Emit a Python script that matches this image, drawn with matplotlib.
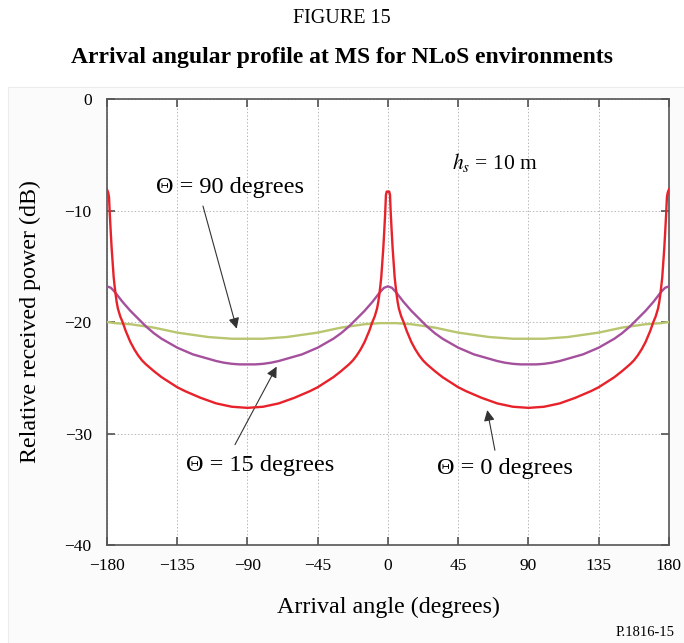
import matplotlib
matplotlib.use("Agg")
import matplotlib.pyplot as plt
from matplotlib.patches import Rectangle

plt.rcParams["font.family"] = ["Liberation Serif", "DejaVu Serif"]
plt.rcParams["mathtext.fontset"] = "stix"

# Arrival angle grid (degrees) for the smooth curves
ANGLES = [
    -180, -177.5, -175, -170, -165, -160, -155, -150, -145, -140,
    -135, -130, -125, -120, -115, -110, -105, -100, -95, -90,
    -85, -80, -75, -70, -65, -60, -55, -50, -45, -40,
    -35, -30, -25, -20, -15, -10, -5, -2.5, 0,
    2.5, 5, 10, 15, 20, 25, 30, 35, 40, 45,
    50, 55, 60, 65, 70, 75, 80, 85, 90,
    95, 100, 105, 110, 115, 120, 125, 130, 135, 140,
    145, 150, 155, 160, 165, 170, 175, 177.5, 180,
]

# Theta = 15 degrees (purple)
THETA15_DB = [
    -16.8, -16.93, -17.3, -18.2, -19.0, -19.7, -20.4, -21.0, -21.5, -21.9,
    -22.3, -22.6, -22.9, -23.1, -23.3, -23.5, -23.65, -23.75, -23.8, -23.8,
    -23.8, -23.75, -23.65, -23.5, -23.3, -23.1, -22.9, -22.6, -22.3, -21.9,
    -21.5, -21.0, -20.4, -19.7, -19.0, -18.2, -17.3, -16.93, -16.8,
    -16.93, -17.3, -18.2, -19.0, -19.7, -20.4, -21.0, -21.5, -21.9, -22.3,
    -22.6, -22.9, -23.1, -23.3, -23.5, -23.65, -23.75, -23.8, -23.8,
    -23.8, -23.75, -23.65, -23.5, -23.3, -23.1, -22.9, -22.6, -22.3, -21.9,
    -21.5, -21.0, -20.4, -19.7, -19.0, -18.2, -17.3, -16.93, -16.8,
]

# Theta = 90 degrees (green)
THETA90_DB = [
    -20.0, -20.05, -20.1, -20.15, -20.2, -20.3, -20.4, -20.5, -20.65, -20.8,
    -20.95, -21.05, -21.15, -21.25, -21.35, -21.4, -21.45, -21.5, -21.5, -21.5,
    -21.5, -21.5, -21.45, -21.4, -21.35, -21.25, -21.15, -21.05, -20.95, -20.8,
    -20.65, -20.5, -20.4, -20.3, -20.2, -20.15, -20.1, -20.1, -20.1,
    -20.1, -20.1, -20.15, -20.2, -20.3, -20.4, -20.5, -20.65, -20.8, -20.95,
    -21.05, -21.15, -21.25, -21.35, -21.4, -21.45, -21.5, -21.5, -21.5,
    -21.5, -21.5, -21.45, -21.4, -21.35, -21.25, -21.15, -21.05, -20.95, -20.8,
    -20.65, -20.5, -20.4, -20.3, -20.2, -20.15, -20.1, -20.05, -20.0,
]

# Theta = 0 degrees (red) - denser near the peaks
ANGLES_RED = [
    -180, -179.2, -178.7, -178.2, -177.6, -177, -176.3, -175.7, -175, -174.5,
    -173.8, -173, -171.5, -170, -168, -165, -162.5, -160, -157.5, -155,
    -150, -145, -140, -135, -130, -125, -120, -110, -100, -90,
    -80, -70, -60, -55, -50, -45, -40, -35, -30, -25,
    -22.5, -20, -17.5, -15, -12, -10, -8.5, -7, -6.2, -5.5,
    -5, -4.3, -3.7, -3, -2.4, -1.8, -1.3, -0.8, 0,
    0.8, 1.3, 1.8, 2.4, 3, 3.7, 4.3, 5, 5.5, 6.2,
    7, 8.5, 10, 12, 15, 17.5, 20, 22.5, 25, 30,
    35, 40, 45, 50, 55, 60, 70, 80, 90,
    100, 110, 120, 125, 130, 135, 140, 145, 150, 155,
    157.5, 160, 162.5, 165, 168, 170, 171.5, 173, 173.8, 174.5,
    175, 175.7, 176.3, 177, 177.6, 178.2, 178.7, 179.2, 180,
]
THETA0_DB = [
    -8.1, -8.4, -8.8, -10.3, -11.9, -13.4, -14.8, -16.0, -16.9, -17.5,
    -18.2, -18.8, -19.5, -20.0, -20.8, -21.8, -22.45, -23.0, -23.45, -23.8,
    -24.4, -24.95, -25.4, -25.85, -26.2, -26.5, -26.8, -27.3, -27.6, -27.7,
    -27.6, -27.3, -26.8, -26.5, -26.2, -25.85, -25.4, -24.95, -24.4, -23.8,
    -23.45, -23.0, -22.45, -21.8, -20.8, -20.0, -19.5, -18.8, -18.2, -17.5,
    -16.9, -16.0, -14.8, -13.4, -11.9, -10.3, -8.6, -8.3, -8.3,
    -8.3, -8.6, -10.3, -11.9, -13.4, -14.8, -16.0, -16.9, -17.5, -18.2,
    -18.8, -19.5, -20.0, -20.8, -21.8, -22.45, -23.0, -23.45, -23.8, -24.4,
    -24.95, -25.4, -25.85, -26.2, -26.5, -26.8, -27.3, -27.6, -27.7,
    -27.6, -27.3, -26.8, -26.5, -26.2, -25.85, -25.4, -24.95, -24.4, -23.8,
    -23.45, -23.0, -22.45, -21.8, -20.8, -20.0, -19.5, -18.8, -18.2, -17.5,
    -16.9, -16.0, -14.8, -13.4, -11.9, -10.3, -8.8, -8.4, -8.1,
]

X_TICKS = [-180, -135, -90, -45, 0, 45, 90, 135, 180]
Y_TICKS = [0, -10, -20, -30, -40]

fig = plt.figure(figsize=(6.84, 6.43), dpi=100)
fig.patches.append(Rectangle((0.0117, 0.0), 0.99, 0.865, transform=fig.transFigure,
                             facecolor="#fbfbfb", edgecolor="#ececec", lw=0.8, zorder=-5))

ax = fig.add_axes([0.1564, 0.1524, 0.8216, 0.6936])
ax.set_facecolor("white")

ax.plot(ANGLES, THETA90_DB, color="#b9c66f", lw=1.7, zorder=3)
ax.plot(ANGLES, THETA15_DB, color="#a5509c", lw=1.7, zorder=4)
ax.plot(ANGLES_RED, THETA0_DB, color="#e8222b", lw=1.7, zorder=5)

ax.set_xlim(-180, 180)
ax.set_ylim(-40, 0)
ax.set_xticks(X_TICKS)
ax.set_yticks(Y_TICKS)
ax.grid(True, color="#b8b8b8", lw=0.7, ls=(0, (1.5, 2)))
ax.tick_params(direction="in", top=True, right=True, length=6, width=1.1,
               color="#444444", labelsize=12.5)
ax.tick_params(axis="x", pad=9)
ax.tick_params(axis="y", pad=11)
for sp in ax.spines.values():
    sp.set_color("#555555")
    sp.set_linewidth(1.2)

ax.set_xlabel("Arrival angle (degrees)", fontsize=17.3)
ax.set_ylabel("Relative received power (dB)", fontsize=17.3)
ax.xaxis.label.set_va("center")
ax.yaxis.label.set_va("center")
ax.xaxis.set_label_coords(0.5, -0.141)
ax.yaxis.set_label_coords(-0.137, 0.5)

arrow = dict(arrowstyle="-|>", color="#333333", lw=0.8, mutation_scale=16,
             shrinkA=0, shrinkB=0)
ax.annotate("", xy=(-96.9, -20.6), xytext=(-118.5, -9.6), arrowprops=arrow)
ax.text(-101.2, -7.9, "Θ = 90 degrees", fontsize=17.5, ha="center", va="center")
ax.annotate("", xy=(-71.3, -24.0), xytext=(-98, -31.0), arrowprops=arrow)
ax.text(-82, -32.9, "Θ = 15 degrees", fontsize=17.5, ha="center", va="center")
ax.annotate("", xy=(63.6, -27.9), xytext=(68.5, -31.5), arrowprops=arrow)
ax.text(75, -33.1, "Θ = 0 degrees", fontsize=17.5, ha="center", va="center")
ax.text(68.5, -5.7, r"$h_s$ = 10 m", fontsize=15.5, ha="center", va="center")

fig.text(0.5, 0.972, "FIGURE 15", fontsize=14.5, ha="center", va="center")
fig.text(0.5, 0.911, "Arrival angular profile at MS for NLoS environments",
         fontsize=17.0, fontweight="bold", ha="center", va="center")
fig.text(0.987, 0.017, "P.1816-15", fontsize=10.5, ha="right", va="center")

fig.savefig("out.png", dpi=100)
